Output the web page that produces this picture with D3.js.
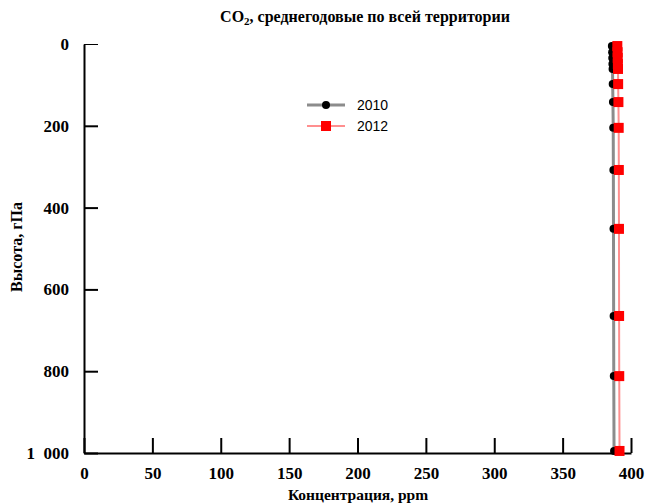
<!DOCTYPE html>
<html>
<head>
<meta charset="utf-8">
<script src="https://cdn.jsdelivr.net/npm/d3@7"></script>
<style>
  body { margin: 0; background: #fff; }
  svg { display: block; }
</style>
</head>
<body>
<div id="chart"></div>
<script>
const width = 645, height = 504;
const margin = {top: 44, right: 14, bottom: 51, left: 84};

// pressure levels, hPa
const levels = [5, 20, 34, 49, 61, 98, 142, 205, 308, 452, 665, 812, 995];
// concentration, ppm
const co2_2010 = [386.0, 386.2, 386.3, 386.4, 386.5, 386.6, 386.8, 387.0, 387.1, 387.2, 387.3, 387.4, 387.6];
const co2_2012 = [390.0, 390.2, 390.3, 390.4, 390.5, 390.6, 390.8, 391.0, 391.1, 391.2, 391.3, 391.4, 391.6];
const xTicks = [0, 50, 100, 150, 200, 250, 300, 350, 400];
const yTicks = [0, 200, 400, 600, 800, 1000];

const series = [
  {name: '2010', values: co2_2010, line: '#8c8c8c', lineWidth: 3, marker: 'circle', fill: '#000'},
  {name: '2012', values: co2_2012, line: '#ff8f8f', lineWidth: 2, marker: 'square', fill: '#ff0000'}
];

const svg = d3.select('#chart').append('svg')
  .attr('width', width)
  .attr('height', height);

const x = d3.scaleLinear().domain([0, 400]).range([margin.left, width - margin.right]);
const y = d3.scaleLinear().domain([0, 1000]).range([margin.top, height - margin.bottom]);

const serif = '"Liberation Serif", "Times New Roman", serif';

// axes
const xAxis = svg.append('g')
  .attr('transform', `translate(0,${y(1000)})`)
  .call(d3.axisBottom(x).tickValues(xTicks).tickSize(-15).tickSizeOuter(0).tickPadding(14));
const yAxis = svg.append('g')
  .attr('transform', `translate(${x(0)},0)`)
  .call(d3.axisLeft(y).tickValues(yTicks).tickSize(-14).tickSizeOuter(0).tickPadding(15)
    .tickFormat(d => d === 1000 ? '1\u2007000' : d));

[xAxis, yAxis].forEach(g => {
  g.select('.domain').attr('stroke', '#000').attr('stroke-width', 2);
  g.selectAll('.tick line').attr('stroke', '#000').attr('stroke-width', 2);
  g.selectAll('.tick text')
    .attr('fill', '#000')
    .style('font-family', serif)
    .style('font-weight', 'bold')
    .style('font-size', '17px');
});
yAxis.selectAll('.tick').filter(d => d === 0).select('line').attr('stroke-width', 1);

// lines
const line = d3.line().x(d => x(d[0])).y(d => y(d[1]));
series.forEach(s => {
  const pts = s.values.map((v, i) => [v, levels[i]]);
  svg.append('path')
    .datum(pts)
    .attr('d', line)
    .attr('fill', 'none')
    .attr('stroke', s.line)
    .attr('stroke-width', s.lineWidth);
});

// markers
const drawMarker = (g, s, cx, cy) => {
  if (s.marker === 'circle') {
    g.append('circle').attr('cx', cx).attr('cy', cy).attr('r', 4).attr('fill', s.fill);
  } else {
    g.append('rect').attr('x', cx - 5).attr('y', cy - 5).attr('width', 10).attr('height', 10).attr('fill', s.fill);
  }
};
series.forEach(s => {
  const g = svg.append('g');
  s.values.forEach((v, i) => drawMarker(g, s, x(v), y(levels[i])));
});

// legend
const legend = svg.append('g').attr('transform', 'translate(307,105)');
series.forEach((s, i) => {
  const row = legend.append('g').attr('transform', `translate(0,${i * 21})`);
  row.append('line').attr('x1', 0).attr('x2', 38).attr('y1', 0).attr('y2', 0)
    .attr('stroke', s.line).attr('stroke-width', s.lineWidth);
  drawMarker(row, s, 19, 0);
  row.append('text').attr('x', 50).attr('y', 5)
    .style('font-family', '"Liberation Sans", Arial, sans-serif')
    .style('font-size', '14px')
    .text(s.name);
});

// title
const title = svg.append('text')
  .attr('x', 365).attr('y', 22)
  .attr('text-anchor', 'middle')
  .style('font-family', serif)
  .style('font-weight', 'bold')
  .style('font-size', '16px');
title.append('tspan').text('CO');
title.append('tspan').attr('font-size', '11px').attr('dy', 3).text('2');
title.append('tspan').attr('dy', -3).text(', среднегодовые по всей территории');

// axis titles
svg.append('text')
  .attr('x', 358).attr('y', 500)
  .attr('text-anchor', 'middle')
  .style('font-family', serif)
  .style('font-weight', 'bold')
  .style('font-size', '15.5px')
  .text('Концентрация, ppm');

svg.append('text')
  .attr('transform', 'translate(22,247) rotate(-90)')
  .attr('text-anchor', 'middle')
  .style('font-family', serif)
  .style('font-weight', 'bold')
  .style('font-size', '16px')
  .text('Высота, гПа');
</script>
</body>
</html>
